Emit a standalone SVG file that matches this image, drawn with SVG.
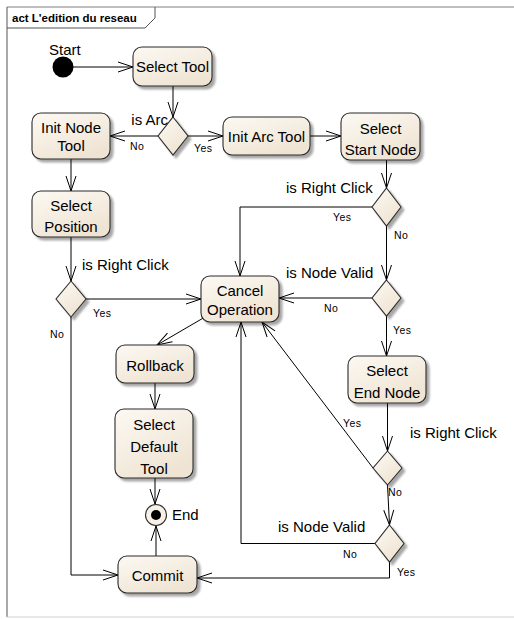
<svg xmlns="http://www.w3.org/2000/svg" width="514" height="619" viewBox="0 0 514 619">
<style>
.frame{fill:none;stroke:#6a6a6a;stroke-width:1}
.node{fill:url(#g);stroke:#2b2b2b;stroke-width:1.1;filter:url(#sh)}
.t{font-family:"Liberation Sans",Arial,sans-serif;font-size:15px;fill:#000;text-anchor:middle}
.gl{font-family:"Liberation Sans",Arial,sans-serif;font-size:15px;fill:#000}
.sm{font-family:"Liberation Sans",Arial,sans-serif;font-size:10.5px;fill:#000;letter-spacing:0.4px}
.title{font-family:"Liberation Sans",Arial,sans-serif;font-size:11.5px;font-weight:bold;fill:#000}
.c{fill:none;stroke:#000;stroke-width:1;marker-end:url(#a)}
</style>
<defs>
<linearGradient id="g" x1="0" y1="0" x2="0.6" y2="1">
<stop offset="0" stop-color="#fcf9f3"/>
<stop offset="1" stop-color="#efe4d3"/>
</linearGradient>
<filter id="sh" x="-20%" y="-20%" width="150%" height="150%">
<feGaussianBlur in="SourceAlpha" stdDeviation="1"/>
<feOffset dx="3" dy="3"/>
<feComponentTransfer><feFuncA type="linear" slope="0.35"/></feComponentTransfer>
<feMerge><feMergeNode/><feMergeNode in="SourceGraphic"/></feMerge>
</filter>
<marker id="a" markerUnits="userSpaceOnUse" viewBox="-16 -6 17 12" refX="0" refY="0" markerWidth="17" markerHeight="12" orient="auto" overflow="visible">
<path d="M-15,-5 L0,0 L-15,5" fill="none" stroke="#000" stroke-width="1"/>
</marker>
</defs>
<rect width="514" height="619" fill="#fff"/>
<g id="frame">
<path d="M7,7 H514" stroke="#808080" fill="none"/>
<path d="M7,7 V617" stroke="#555" fill="none"/>
<path d="M7,617 H514" stroke="#d0d0d0" fill="none"/>
<path d="M7,28 H145 L155,18 V7" stroke="#555" fill="none"/>
<text class="title" x="12" y="21.5">act L'edition du reseau</text>
</g>
<g id="connectors">
<line class="c" x1="73" y1="67" x2="133" y2="67"/>
<line class="c" x1="173" y1="86" x2="173" y2="117"/>
<line class="c" x1="158" y1="136" x2="110" y2="136"/>
<text class="sm" x="130" y="150">No</text>
<line class="c" x1="188" y1="136" x2="223" y2="136"/>
<text class="sm" x="194" y="152">Yes</text>
<line class="c" x1="310" y1="136" x2="341" y2="136"/>
<line class="c" x1="386.5" y1="160" x2="386.5" y2="188"/>
<polyline class="c" points="372,207 240,207 240,276"/>
<text class="sm" x="333" y="221">Yes</text>
<line class="c" x1="386.5" y1="226" x2="386.5" y2="280"/>
<text class="sm" x="394" y="239">No</text>
<line class="c" x1="372" y1="298" x2="279" y2="298"/>
<text class="sm" x="324" y="312">No</text>
<line class="c" x1="386.5" y1="316" x2="386.5" y2="356"/>
<text class="sm" x="393" y="334">Yes</text>
<line class="c" x1="71" y1="159" x2="71" y2="191"/>
<line class="c" x1="71" y1="237" x2="71" y2="281"/>
<line class="c" x1="86" y1="299" x2="201" y2="299"/>
<text class="sm" x="93" y="317">Yes</text>
<polyline class="c" points="71,317 71,575 118,575"/>
<text class="sm" x="50" y="338">No</text>
<line class="c" x1="205" y1="317" x2="157" y2="345"/>
<line class="c" x1="155" y1="383" x2="155" y2="409"/>
<line class="c" x1="155" y1="478" x2="155" y2="504"/>
<line class="c" x1="156" y1="556" x2="156" y2="526"/>
<line class="c" x1="387.5" y1="403" x2="387.5" y2="451"/>
<line class="c" x1="373" y1="468" x2="262" y2="322"/>
<text class="sm" x="343" y="427">Yes</text>
<line class="c" x1="387.5" y1="485" x2="389.5" y2="525"/>
<text class="sm" x="388" y="496">No</text>
<polyline class="c" points="375,543.5 241,543.5 241,322"/>
<text class="sm" x="343" y="558">No</text>
<polyline class="c" points="389.5,562 389.5,578 197,578"/>
<text class="sm" x="397" y="576">Yes</text>
</g>
<g id="start">
<circle cx="63" cy="67" r="10.5" fill="#000"/>
<text class="gl" x="49" y="55">Start</text>
</g>
<g id="select-tool">
<rect class="node" x="133" y="47" width="79" height="39" rx="9"/>
<text class="t" x="172.5" y="72">Select Tool</text>
</g>
<g id="is-arc">
<polygon class="node" points="173,117 188,136 173,155 158,136"/>
<text class="gl" x="168" y="125" text-anchor="end">is Arc</text>
</g>
<g id="init-node-tool">
<rect class="node" x="32" y="113" width="78" height="46" rx="9"/>
<text class="t" x="71" y="133">Init Node</text>
<text class="t" x="71" y="151">Tool</text>
</g>
<g id="init-arc-tool">
<rect class="node" x="223" y="117" width="87" height="38" rx="9"/>
<text class="t" x="266.5" y="142">Init Arc Tool</text>
</g>
<g id="select-start-node">
<rect class="node" x="341" y="113" width="79" height="47" rx="9"/>
<text class="t" x="380.5" y="134">Select</text>
<text class="t" x="380.5" y="155">Start Node</text>
</g>
<g id="rc1">
<polygon class="node" points="386.5,188 401,207 386.5,226 372,207"/>
<text class="gl" x="286" y="193">is Right Click</text>
</g>
<g id="nv1">
<polygon class="node" points="386.5,280 401,298 386.5,316 372,298"/>
<text class="gl" x="286" y="278">is Node Valid</text>
</g>
<g id="select-position">
<rect class="node" x="32" y="191" width="78" height="46" rx="9"/>
<text class="t" x="71" y="211">Select</text>
<text class="t" x="71" y="232">Position</text>
</g>
<g id="rc0">
<polygon class="node" points="71,281 86,299 71,317 56,299"/>
<text class="gl" x="82" y="270">is Right Click</text>
</g>
<g id="cancel-operation">
<rect class="node" x="201" y="276" width="78" height="46" rx="9"/>
<text class="t" x="240" y="296">Cancel</text>
<text class="t" x="240" y="315">Operation</text>
</g>
<g id="rollback">
<rect class="node" x="116" y="345" width="78" height="38" rx="9"/>
<text class="t" x="155" y="371">Rollback</text>
</g>
<g id="select-default-tool">
<rect class="node" x="115" y="409" width="78" height="69" rx="9"/>
<text class="t" x="154" y="430">Select</text>
<text class="t" x="154" y="452">Default</text>
<text class="t" x="154" y="474">Tool</text>
</g>
<g id="end">
<circle cx="156" cy="515" r="10.5" fill="#f7f0e6" stroke="#2b2b2b" stroke-width="1.1"/>
<circle cx="156" cy="515" r="5" fill="#000"/>
<text class="gl" x="172" y="520">End</text>
</g>
<g id="commit">
<rect class="node" x="118" y="556" width="79" height="37" rx="9"/>
<text class="t" x="157.5" y="581">Commit</text>
</g>
<g id="select-end-node">
<rect class="node" x="348" y="356" width="78" height="47" rx="9"/>
<text class="t" x="387" y="376">Select</text>
<text class="t" x="387" y="398">End Node</text>
</g>
<g id="rc2">
<polygon class="node" points="387.5,451 402,468 387.5,485 373,468"/>
<text class="gl" x="410" y="438">is Right Click</text>
</g>
<g id="nv2">
<polygon class="node" points="389.5,525 404,543.5 389.5,562 375,543.5"/>
<text class="gl" x="278" y="532">is Node Valid</text>
</g>
</svg>
